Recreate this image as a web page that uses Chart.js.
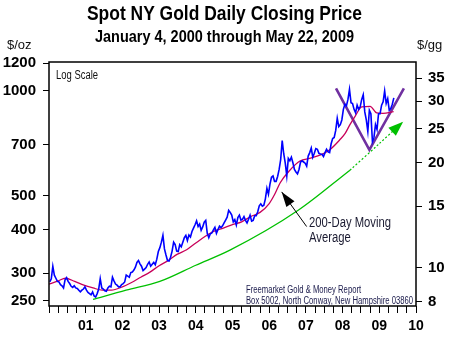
<!DOCTYPE html>
<html><head><meta charset="utf-8">
<script src="https://cdn.jsdelivr.net/npm/chart.js@4"></script>
<style>html,body{margin:0;padding:0;background:#fff}#wrap{width:467px;height:351px;position:relative}</style>
</head><body><div id="wrap"><canvas id="c" width="467" height="351"></canvas></div>
<script>
// ---- DATA ----
const startYear = 2000;
// Spot gold, two readings per month (approx. 8th and 23rd), US$/oz
const goldPrices = [
// 2000
283,289, 314,296, 290,284, 283,278, 276,272, 287,291, 284,280, 275,273, 276,272, 271,268, 265,268, 270,274,
// 2001
268,264, 262,260, 265,258, 256,262, 270,289, 272,270, 267,266, 272,275, 274,292, 285,279, 277,274, 274,278,
// 2002
280,283, 296,294, 292,301, 302,306, 312,322, 326,319, 314,305, 308,311, 318,323, 314,318, 322,317, 329,346,
// 2003
355,368, 385,352, 338,326, 325,333, 347,368, 362,347, 346,362, 357,368, 379,385, 372,386, 381,395, 404,413,
// 2004
424,408, 415,398, 407,420, 425,390, 379,389, 391,399, 406,390, 400,409, 405,410, 418,426, 434,454, 448,440,
// 2005
421,427, 412,433, 440,426, 428,436, 425,418, 428,440, 423,425, 438,438, 450,468, 474,467, 470,490, 525,505,
// 2006
540,565, 570,550, 550,568, 595,635, 720,660, 620,570, 640,630, 645,622, 595,585, 578,595, 625,630, 625,620,
// 2007
608,650, 665,685, 645,662, 683,680, 662,659, 658,648, 665,680, 668,665, 705,730, 735,770, 835,790, 800,825,
// 2008
885,915, 905,945, 1010,925, 920,885, 865,910, 885,900, 945,975, 870,825, 765,880, 860,715, 735,800, 775,860,
// 2009
860,910, 930,1000, 920,950, 880,890, 915,955
];
// 200-day moving average
const maYears  = [2000.0,2000.25,2000.45,2000.7,2000.95,2001.2,2001.45,2001.7,2002.0,2002.25,2002.5,2002.75,2003.0,2003.25,2003.5,2003.75,2004.0,2004.25,2004.5,2004.75,2005.0,2005.25,2005.5,2005.75,2006.0,2006.15,2006.3,2006.55,2006.85,2007.1,2007.4,2007.66,2007.93,2008.07,2008.2,2008.34,2008.52,2008.75,2008.93,2009.1,2009.39];
const maValues = [279,285,290,284,277,272,268,268,274,282,292,302,315,326,340,350,366,382,396,404,413,421,436,448,475,505,545,590,630,640,655,679,725,755,800,845,900,903,864,862,872];
// green trend curve
const trendYears  = [2001.2,2002.1,2003.02,2004.0,2004.93,2006.8,2008.2];
const trendValues = [252,268,284,316,349,455,592];
const trendExtYears  = [2008.2,2008.99,2009.65];
const trendExtValues = [592,704,816];
// purple V
const vYears  = [2007.82,2008.73,2009.67];
const vValues = [1017,677,1017];
// annotation arrow (from label to MA line)
const noteArrowYears  = [2007.02,2006.34];
const noteArrowValues = [408,513];
// ticks
const leftTicks  = [250,300,400,500,700,1000,1200];
const rightTicks = [8,10,15,20,25,30,35];
const gramsPerOz = 31.1035;
const yMin = 241.4, yMax = 1210;

// ---- BUILD ----
const pts = (xs, ys) => xs.map((x,i)=>({x, y: ys[i]}));
const goldPts = goldPrices.map((v,i)=>({x: startYear + (i+0.5)/24, y: v}));

const FONT = "'Liberation Sans', Arial, sans-serif";

function arrowHead(ctx, fx, fy, tx, ty, len, hw, color){
  const a = Math.atan2(ty-fy, tx-fx);
  const bx = tx - len*Math.cos(a), by = ty - len*Math.sin(a);
  ctx.beginPath();
  ctx.moveTo(tx,ty);
  ctx.lineTo(bx + hw*Math.sin(a), by - hw*Math.cos(a));
  ctx.lineTo(bx - hw*Math.sin(a), by + hw*Math.cos(a));
  ctx.closePath();
  ctx.fillStyle = color; ctx.fill();
}
function fitText(ctx, text, x, y, font, width, align, color){
  ctx.save();
  ctx.font = font; ctx.fillStyle = color; ctx.textBaseline = 'alphabetic';
  const w = ctx.measureText(text).width;
  const s = width / w;
  ctx.translate(x, y); ctx.scale(s, 1);
  ctx.textAlign = align;
  ctx.fillText(text, 0, 0);
  ctx.restore();
  return s;
}
function scaledText(ctx, text, x, y, font, s, align, color){
  ctx.save();
  ctx.font = font; ctx.fillStyle = color; ctx.textBaseline = 'alphabetic';
  ctx.translate(x, y); ctx.scale(s, 1);
  ctx.textAlign = align;
  ctx.fillText(text, 0, 0);
  ctx.restore();
}

const decor = {
  id: 'decor',
  afterDatasetsDraw(chart){
    const {ctx, scales:{x, y}} = chart;
    ctx.save();
    const fx = x.getPixelForValue(noteArrowYears[0]), fy = y.getPixelForValue(noteArrowValues[0]);
    const tx = x.getPixelForValue(noteArrowYears[1]), ty = y.getPixelForValue(noteArrowValues[1]);
    ctx.strokeStyle = '#000'; ctx.lineWidth = 1;
    ctx.beginPath(); ctx.moveTo(fx,fy); ctx.lineTo(tx,ty); ctx.stroke();
    arrowHead(ctx, fx, fy, tx, ty, 15, 5, '#000');
    const n = trendExtYears.length;
    const gx0 = x.getPixelForValue(trendExtYears[n-2]), gy0 = y.getPixelForValue(trendExtValues[n-2]);
    const gx1 = x.getPixelForValue(trendExtYears[n-1]), gy1 = y.getPixelForValue(trendExtValues[n-1]);
    arrowHead(ctx, gx0, gy0, gx1, gy1, 15, 5.5, '#00c000');
    ctx.restore();
  },
  afterDraw(chart){
    const {ctx, chartArea:a} = chart;
    ctx.save();
    ctx.strokeStyle = '#000'; ctx.lineWidth = 1.5;
    ctx.strokeRect(a.left, a.top, a.right-a.left, a.bottom-a.top);
    ctx.restore();
    fitText(ctx, 'Spot NY Gold Daily Closing Price', 224.5, 20, "bold 21px " + FONT, 275, 'center', '#000');
    fitText(ctx, 'January 4, 2000 through May 22, 2009', 224.5, 41.5, "bold 17px " + FONT, 259, 'center', '#000');
    scaledText(ctx, '$/oz', 7, 49, "13px " + FONT, 1, 'left', '#111');
    scaledText(ctx, '$/gg', 417, 49, "13px " + FONT, 1, 'left', '#111');
    fitText(ctx, 'Log Scale', a.left + 7, a.top + 17, "12px " + FONT, 42, 'left', '#111');
    const s1 = fitText(ctx, '200-Day Moving', 309, 226.5, "14px " + FONT, 82, 'left', '#1a1a30');
    scaledText(ctx, 'Average', 309, 241.5, "14px " + FONT, s1, 'left', '#1a1a30');
    const s2 = fitText(ctx, 'Box 5002, North Conway, New Hampshire 03860', 246, 303.5, "10px " + FONT, 167, 'left', '#202050');
    scaledText(ctx, 'Freemarket Gold & Money Report', 246, 293, "10px " + FONT, s2, 'left', '#202050');
  }
};

const tickFont = {family: FONT, weight: 'bold', size: 15};

new Chart(document.getElementById('c'), {
  type: 'line',
  data: {
    datasets: [
      {data: pts(trendExtYears, trendExtValues), borderColor:'#00c000', borderWidth:1.2, borderDash:[2,2], pointRadius:0, tension:0.3, fill:false},
      {data: pts(trendYears, trendValues), borderColor:'#00c000', borderWidth:1.3, pointRadius:0, cubicInterpolationMode:'monotone', fill:false},
      {data: goldPts, borderColor:'#0000ff', borderWidth:1.6, pointRadius:0, tension:0, fill:false},
      {data: pts(maYears, maValues), borderColor:'#c8005a', borderWidth:1.3, pointRadius:0, cubicInterpolationMode:'monotone', fill:false},
      {data: pts(vYears, vValues), borderColor:'#7030a0', borderWidth:2.6, pointRadius:0, tension:0, fill:false}
    ]
  },
  options: {
    responsive: false, animation: false, devicePixelRatio: 1,
    layout: {padding: {top: 62, left: 0, right: 0, bottom: 0}},
    plugins: {legend: {display:false}, tooltip: {enabled:false}, title:{display:false}},
    scales: {
      x: {
        type: 'linear', min: 2000, max: 2010, position: 'bottom',
        afterBuildTicks(s){ const t=[]; for(let k=0;k<=40;k++) t.push({value: 2000 + k/4}); s.ticks = t; },
        afterFit(s){ s.height = 45; },
        grid: {drawOnChartArea:false, drawTicks:true, tickLength:7, color:'#000', lineWidth:1},
        border: {display:false},
        ticks: {autoSkip:false, maxRotation:0, minRotation:0, padding:5, color:'#000', font:{family: FONT, weight:'bold', size:14},
          callback(v){ return (Number.isInteger(v) && v > 2000) ? String(v).slice(2) : ''; }}
      },
      y: {
        type: 'logarithmic', min: yMin, max: yMax, position: 'left',
        afterBuildTicks(s){ s.ticks = leftTicks.map(v=>({value:v})); },
        afterFit(s){ s.width = 49; },
        grid: {drawOnChartArea:false, drawTicks:true, tickLength:6, color:'#000', lineWidth:1},
        border: {display:false},
        ticks: {padding:7, color:'#000', font: tickFont, callback(v){ return String(v); }}
      },
      y2: {
        type: 'logarithmic', min: yMin/gramsPerOz, max: yMax/gramsPerOz, position: 'right',
        afterBuildTicks(s){ s.ticks = rightTicks.map(v=>({value:v})); },
        afterFit(s){ s.width = 51; },
        grid: {drawOnChartArea:false, drawTicks:true, tickLength:6, color:'#000', lineWidth:1},
        border: {display:false},
        ticks: {padding:6, color:'#000', font: tickFont, callback(v){ return String(v); }}
      }
    }
  },
  plugins: [decor]
});
</script>
</body></html>
